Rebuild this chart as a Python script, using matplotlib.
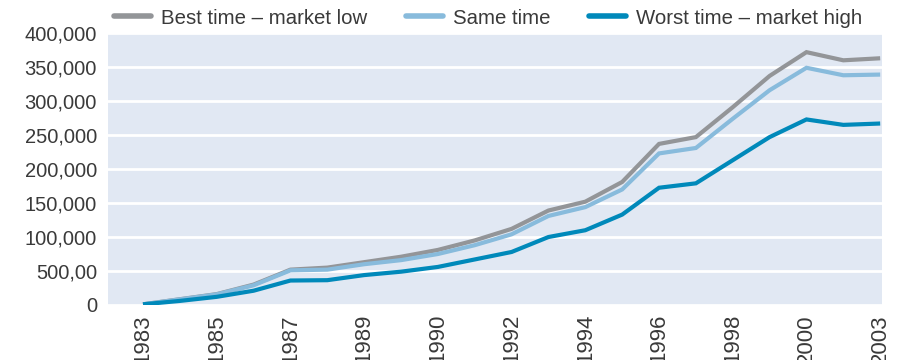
import matplotlib
matplotlib.use("Agg")
import matplotlib.pyplot as plt

# data (one value per year slot)
best = [1000, 8500, 16000, 30000, 52000, 55000, 63000, 71000, 81000, 95000, 112000,
        139000, 152000, 181000, 237000, 247000, 291000, 337000, 372000, 360000, 363000]
same = [1000, 8300, 15700, 29000, 51000, 52000, 60000, 66000, 75000, 88000, 104000,
        131000, 144000, 170000, 223000, 231000, 274000, 316000, 349000, 338000, 339000]
worst = [1000, 6000, 12000, 21000, 36000, 36500, 44000, 49000, 56000, 67000, 78000,
         100000, 110000, 133000, 172500, 179000, 213000, 247000, 273000, 265000, 267000]

xlabels = ["1983", "1985", "1987", "1989", "1990", "1992", "1994", "1996", "1998", "2000", "2003"]
yticks = [0, 50000, 100000, 150000, 200000, 250000, 300000, 350000, 400000]
ylabels = ["0", "500,00", "100,000", "150,000", "200,000", "250,000", "300,000", "350,000", "400,000"]

names = ["Best time \u2013 market low", "Same time", "Worst time \u2013 market high"]
colors = ["#939598", "#88bbdc", "#0089ba"]

plt.rcParams["font.family"] = ["Liberation Sans", "DejaVu Sans"]
txtcol = "#3a3a3a"

fig = plt.figure(figsize=(8.97, 3.6), dpi=100)
ax = fig.add_axes([0.1204, 0.1528, 0.8629, 0.7552])
ax.set_facecolor("#e1e8f3")

x = list(range(len(best)))
for series, name, col in zip([best, same, worst], names, colors):
    ax.plot(x, series, color=col, linewidth=3.0, label=name,
            solid_capstyle="butt", solid_joinstyle="miter")

ax.set_xlim(-0.95, 20.05)
ax.set_ylim(0, 400000)
ax.set_yticks(yticks)
ax.set_yticklabels(ylabels, fontsize=14.5)
ax.set_xticks(x[::2])
ax.set_xticklabels(xlabels, rotation=90, fontsize=16)
ax.tick_params(axis="both", length=0, colors=txtcol)
ax.tick_params(axis="y", pad=8)
ax.tick_params(axis="x", pad=6.5)
ax.yaxis.grid(True, color="white", linewidth=2)
ax.set_axisbelow(True)
for s in ax.spines.values():
    s.set_visible(False)

leg = fig.legend(loc="center left", bbox_to_anchor=(0.118, 0.95), ncol=3,
                 frameon=False, fontsize=14.7, handlelength=1.8,
                 handletextpad=0.5, columnspacing=1.9, borderaxespad=0)
for t in leg.get_texts():
    t.set_color(txtcol)
for h in leg.get_lines():
    h.set_linewidth(4)
    h.set_solid_capstyle("round")

fig.savefig("out.png", dpi=100)
